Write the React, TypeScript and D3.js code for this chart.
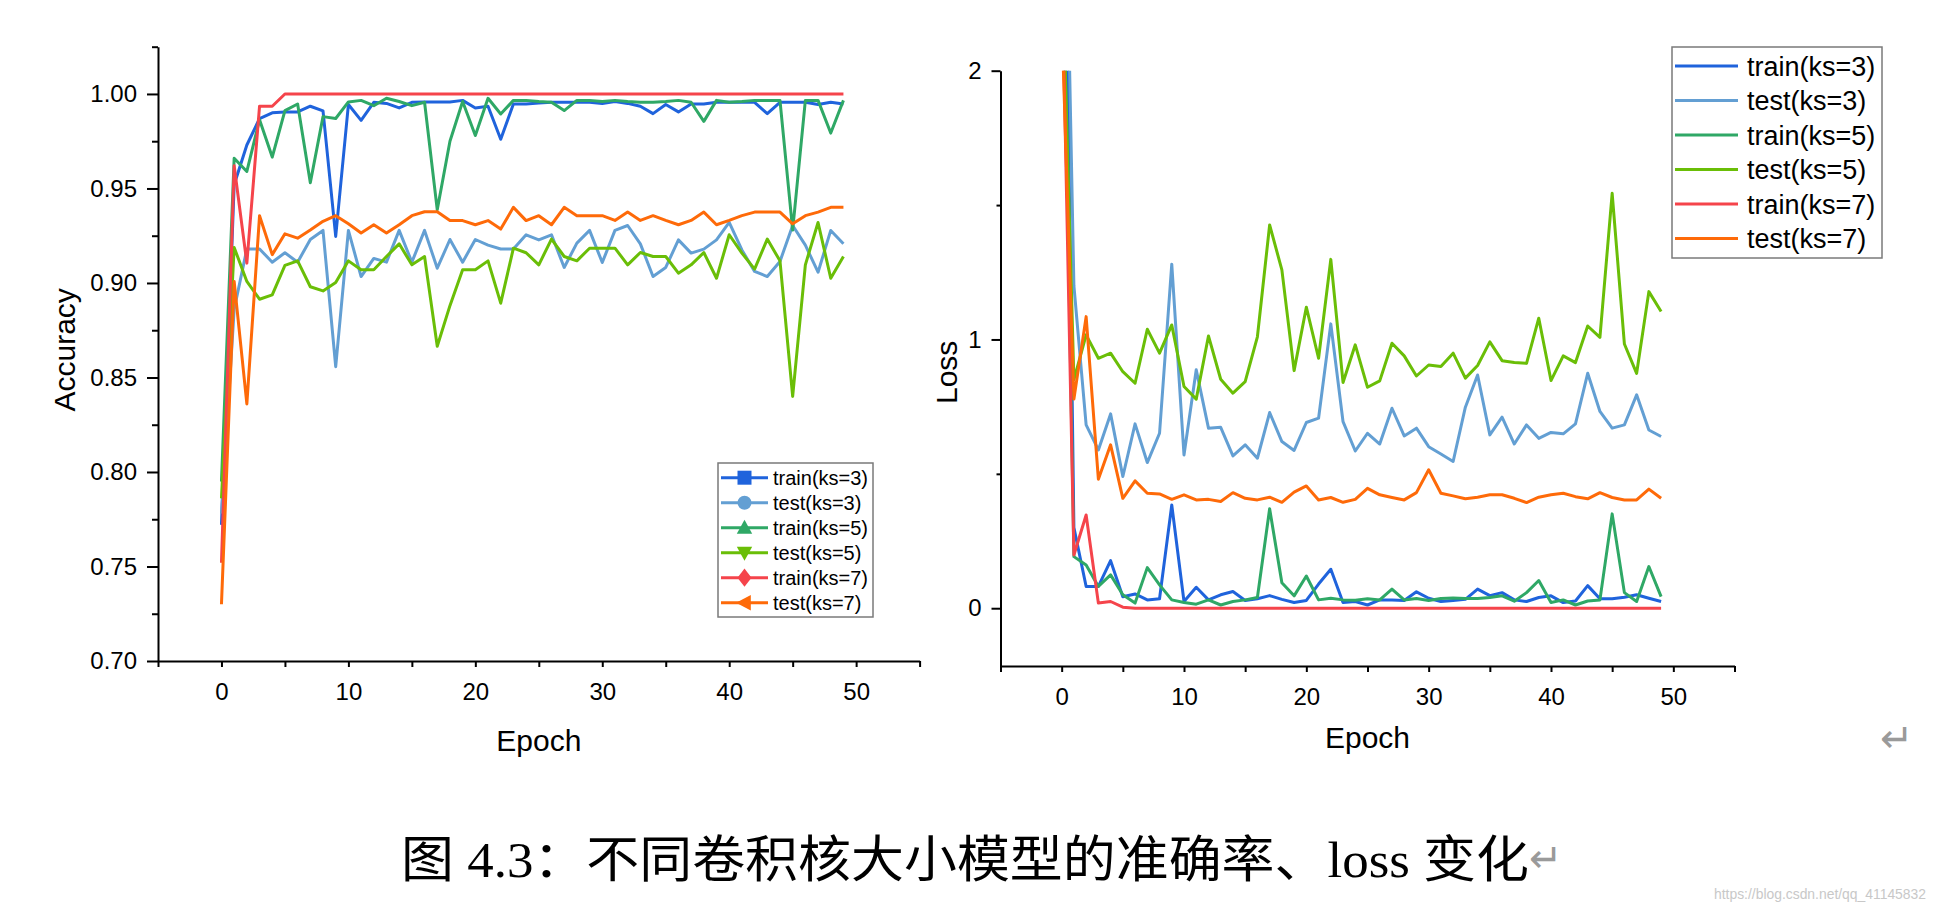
import React, { useEffect, useRef } from "react";
import * as d3 from "d3";

// series order: train(ks=3), test(ks=3), train(ks=5), test(ks=5), train(ks=7), test(ks=7)
const seriesNames = ["train(ks=3)", "test(ks=3)", "train(ks=5)", "test(ks=5)", "train(ks=7)", "test(ks=7)"];
const seriesColors = ["#1f63dc", "#639fd3", "#2fa866", "#6abe07", "#f5444b", "#fe6a09"];
const markerShapes = ["square", "circle", "triangleUp", "triangleDown", "diamond", "triangleLeft"];

// Accuracy per epoch (0..49)
const accTrain3 = [0.772, 0.952, 0.973, 0.987, 0.99, 0.9905, 0.9905, 0.9935, 0.991, 0.9246, 0.9944, 0.986, 0.9956, 0.995, 0.9926, 0.9956, 0.9958, 0.9958, 0.9958, 0.9966, 0.9926, 0.9935, 0.976, 0.9947, 0.9947, 0.9952, 0.9956, 0.9956, 0.9956, 0.9956, 0.995, 0.996, 0.995, 0.9935, 0.9896, 0.9944, 0.9905, 0.9947, 0.9947, 0.9956, 0.9956, 0.9956, 0.9956, 0.9896, 0.9956, 0.9956, 0.9956, 0.9944, 0.9956, 0.9947];
const accTest3 = [0.778, 0.886, 0.918, 0.918, 0.911, 0.916, 0.911, 0.923, 0.9278, 0.8557, 0.9278, 0.9034, 0.913, 0.911, 0.9278, 0.911, 0.9278, 0.9078, 0.923, 0.911, 0.923, 0.92, 0.918, 0.918, 0.9255, 0.9228, 0.9255, 0.9082, 0.9211, 0.9278, 0.9108, 0.9278, 0.9304, 0.9207, 0.9034, 0.9082, 0.9228, 0.9158, 0.9179, 0.9228, 0.932, 0.9175, 0.9061, 0.9034, 0.9114, 0.9304, 0.92, 0.9057, 0.9278, 0.9207];
const accTrain5 = [0.795, 0.966, 0.959, 0.9864, 0.9666, 0.9912, 0.9947, 0.953, 0.988, 0.987, 0.9958, 0.9966, 0.9938, 0.9977, 0.996, 0.9938, 0.9956, 0.9387, 0.975, 0.996, 0.978, 0.9977, 0.9894, 0.9966, 0.9966, 0.996, 0.9956, 0.9912, 0.9966, 0.9966, 0.996, 0.9966, 0.996, 0.9956, 0.9956, 0.996, 0.9966, 0.9956, 0.9855, 0.9966, 0.9956, 0.996, 0.9966, 0.9966, 0.9966, 0.928, 0.9966, 0.9966, 0.9793, 0.9966];
const accTest5 = [0.786, 0.9188, 0.9008, 0.8914, 0.8937, 0.9093, 0.9117, 0.898, 0.8958, 0.9002, 0.9117, 0.907, 0.907, 0.914, 0.9207, 0.9096, 0.914, 0.8665, 0.888, 0.907, 0.907, 0.9117, 0.8893, 0.9184, 0.916, 0.9096, 0.9232, 0.914, 0.9117, 0.9184, 0.9184, 0.9184, 0.9096, 0.9161, 0.914, 0.914, 0.9052, 0.9096, 0.9161, 0.9025, 0.9255, 0.9158, 0.9073, 0.9232, 0.9117, 0.84, 0.9096, 0.932, 0.9025, 0.914];
const accTrain7 = [0.752, 0.962, 0.9105, 0.9935, 0.9935, 1, 1, 1, 1, 1, 1, 1, 1, 1, 1, 1, 1, 1, 1, 1, 1, 1, 1, 1, 1, 1, 1, 1, 1, 1, 1, 1, 1, 1, 1, 1, 1, 1, 1, 1, 1, 1, 1, 1, 1, 1, 1, 1, 1, 1];
const accTest7 = [0.73, 0.9008, 0.836, 0.9356, 0.915, 0.926, 0.9237, 0.928, 0.9326, 0.9356, 0.9313, 0.9264, 0.9308, 0.9264, 0.9308, 0.9356, 0.9377, 0.9377, 0.933, 0.933, 0.9308, 0.933, 0.9285, 0.94, 0.933, 0.9356, 0.9308, 0.94, 0.9356, 0.9356, 0.9356, 0.9331, 0.9375, 0.9331, 0.9356, 0.9331, 0.9308, 0.9331, 0.9375, 0.9308, 0.9331, 0.9356, 0.9375, 0.9375, 0.9375, 0.9313, 0.9356, 0.9375, 0.94, 0.94];

// Loss per epoch (0..49); first values run above the axis top and get clipped
const lossTrain3 = [3.7, 0.3, 0.081, 0.081, 0.177, 0.043, 0.053, 0.031, 0.035, 0.384, 0.025, 0.078, 0.031, 0.05, 0.062, 0.029, 0.035, 0.047, 0.033, 0.021, 0.029, 0.09, 0.145, 0.021, 0.025, 0.012, 0.031, 0.031, 0.029, 0.061, 0.037, 0.025, 0.029, 0.033, 0.071, 0.047, 0.058, 0.031, 0.025, 0.04, 0.046, 0.021, 0.027, 0.084, 0.035, 0.035, 0.041, 0.05, 0.037, 0.025];
const lossTest3 = [3.5, 1.2, 0.682, 0.589, 0.723, 0.49, 0.686, 0.542, 0.651, 1.28, 0.57, 0.887, 0.67, 0.673, 0.567, 0.608, 0.558, 0.728, 0.62, 0.587, 0.691, 0.707, 1.058, 0.694, 0.585, 0.651, 0.611, 0.744, 0.641, 0.67, 0.601, 0.574, 0.546, 0.748, 0.868, 0.645, 0.711, 0.611, 0.682, 0.632, 0.654, 0.649, 0.686, 0.874, 0.732, 0.67, 0.682, 0.794, 0.663, 0.639];
const lossTrain5 = [2.77, 0.192, 0.161, 0.081, 0.124, 0.05, 0.019, 0.151, 0.087, 0.031, 0.021, 0.015, 0.031, 0.012, 0.025, 0.031, 0.04, 0.37, 0.095, 0.046, 0.12, 0.031, 0.037, 0.031, 0.03, 0.035, 0.031, 0.071, 0.031, 0.036, 0.029, 0.036, 0.038, 0.036, 0.036, 0.04, 0.046, 0.026, 0.058, 0.103, 0.021, 0.031, 0.012, 0.027, 0.031, 0.351, 0.058, 0.025, 0.155, 0.043];
const lossTest5 = [2.49, 0.85, 1.017, 0.93, 0.949, 0.88, 0.837, 1.038, 0.949, 1.054, 0.825, 0.778, 1.013, 0.852, 0.8, 0.843, 1.01, 1.426, 1.259, 0.884, 1.12, 0.93, 1.298, 0.84, 0.98, 0.822, 0.846, 0.986, 0.939, 0.864, 0.905, 0.899, 0.949, 0.856, 0.903, 0.991, 0.921, 0.914, 0.911, 1.079, 0.847, 0.939, 0.914, 1.05, 1.008, 1.544, 0.983, 0.874, 1.178, 1.104];
const lossTrain7 = [2.42, 0.198, 0.347, 0.019, 0.025, 0.004, 0, 0, 0, 0, 0, 0, 0, 0, 0, 0, 0, 0, 0, 0, 0, 0, 0, 0, 0, 0, 0, 0, 0, 0, 0, 0, 0, 0, 0, 0, 0, 0, 0, 0, 0, 0, 0, 0, 0, 0, 0, 0, 0, 0];
const lossTest7 = [2.2, 0.778, 1.085, 0.48, 0.608, 0.409, 0.474, 0.428, 0.425, 0.405, 0.422, 0.403, 0.405, 0.397, 0.43, 0.409, 0.403, 0.413, 0.394, 0.432, 0.455, 0.403, 0.412, 0.394, 0.405, 0.446, 0.422, 0.412, 0.403, 0.43, 0.515, 0.428, 0.418, 0.407, 0.413, 0.422, 0.422, 0.409, 0.393, 0.413, 0.422, 0.428, 0.415, 0.407, 0.43, 0.412, 0.403, 0.403, 0.443, 0.409];

const xMajorTicks = [0, 10, 20, 30, 40, 50];
const xMinorTicks = [-5, 5, 15, 25, 35, 45, 55];
const accMajorTicks = [0.7, 0.75, 0.8, 0.85, 0.9, 0.95, 1.0];
const accMinorTicks = [0.725, 0.775, 0.825, 0.875, 0.925, 0.975, 1.025];
const lossMajorTicks = [0, 1, 2];
const lossMinorTicks = [0.5, 1.5];

const FONT = "'Liberation Sans', Arial, sans-serif";

type Sel = d3.Selection<SVGGElement, unknown, null, undefined>;

function markerPath(shape: string, s: number) {
  switch (shape) {
    case "square":
      return `M${-s},${-s}H${s}V${s}H${-s}Z`;
    case "circle":
      return `M${s},0A${s},${s} 0 1,1 ${-s},0A${s},${s} 0 1,1 ${s},0Z`;
    case "triangleUp":
      return `M0,${-s * 1.15}L${s * 1.1},${s * 0.85}L${-s * 1.1},${s * 0.85}Z`;
    case "triangleDown":
      return `M0,${s * 1.15}L${s * 1.1},${-s * 0.85}L${-s * 1.1},${-s * 0.85}Z`;
    case "diamond":
      return `M0,${-s * 1.3}L${s},0L0,${s * 1.3}L${-s},0Z`;
    default:
      return `M${-s * 1.2},0L${s * 0.9},${-s * 1.1}L${s * 0.9},${s * 1.1}Z`;
  }
}

function styleAxis(g: Sel, fontSize: number) {
  g.select(".domain").attr("stroke", "#000").attr("stroke-width", 2);
  g.selectAll(".tick line").attr("stroke", "#000").attr("stroke-width", 2);
  g.selectAll(".tick text")
    .attr("fill", "#000")
    .attr("font-family", FONT)
    .attr("font-size", fontSize);
}

function drawPanel(
  root: d3.Selection<SVGSVGElement, unknown, null, undefined>,
  opts: {
    id: string;
    xRange: [number, number];
    yDomain: [number, number];
    yRange: [number, number];
    yMajor: number[];
    yMinor: number[];
    yFormat: (v: number) => string;
    yMajorSize: number;
    yMinorSize: number;
    series: number[][];
    yTitle: string;
    yTitleX: number;
    epochY: number;
  }
) {
  const x = d3.scaleLinear().domain([-5, 55]).range(opts.xRange);
  const y = d3.scaleLinear().domain(opts.yDomain).range(opts.yRange);
  const g = root.append("g");

  // clip
  g.append("clipPath")
    .attr("id", opts.id)
    .append("rect")
    .attr("x", opts.xRange[0])
    .attr("y", opts.yRange[1])
    .attr("width", opts.xRange[1] - opts.xRange[0])
    .attr("height", opts.yRange[0] - opts.yRange[1]);

  const line = d3
    .line<number>()
    .x((_, i) => x(i))
    .y((d) => y(d));

  const lines = g.append("g").attr("clip-path", `url(#${opts.id})`);
  opts.series.forEach((s, i) => {
    lines
      .append("path")
      .datum(s)
      .attr("fill", "none")
      .attr("stroke", seriesColors[i])
      .attr("stroke-width", 3)
      .attr("stroke-linejoin", "round")
      .attr("d", line);
  });

  // axes
  const yAxis = g.append("g").attr("transform", `translate(${opts.xRange[0]},0)`);
  yAxis.call(
    d3.axisLeft(y).tickValues(opts.yMajor).tickFormat((d) => opts.yFormat(d as number))
      .tickSize(opts.yMajorSize).tickSizeOuter(0).tickPadding(10)
  );
  styleAxis(yAxis, 24);
  const yMinor = g.append("g").attr("transform", `translate(${opts.xRange[0]},0)`);
  yMinor.call(d3.axisLeft(y).tickValues(opts.yMinor).tickFormat(() => "").tickSize(opts.yMinorSize));
  yMinor.select(".domain").remove();
  styleAxis(yMinor, 24);

  const xAxis = g.append("g").attr("transform", `translate(0,${opts.yRange[0]})`);
  xAxis.call(
    d3.axisBottom(x).tickValues(xMajorTicks).tickFormat((d) => String(d))
      .tickSize(6).tickSizeOuter(0).tickPadding(16)
  );
  styleAxis(xAxis, 24);
  const xMinor = g.append("g").attr("transform", `translate(0,${opts.yRange[0]})`);
  xMinor.call(d3.axisBottom(x).tickValues(xMinorTicks).tickFormat(() => "").tickSize(6));
  xMinor.select(".domain").remove();
  styleAxis(xMinor, 24);

  // titles
  const cx = (opts.xRange[0] + opts.xRange[1]) / 2;
  g.append("text")
    .attr("x", cx)
    .attr("y", opts.epochY)
    .attr("text-anchor", "middle")
    .attr("font-family", FONT)
    .attr("font-size", 30)
    .text("Epoch");
  const cy = (opts.yRange[0] + opts.yRange[1]) / 2 + (opts.id === "clipAcc" ? -4 : 4);
  g.append("text")
    .attr("transform", `translate(${opts.yTitleX},${cy}) rotate(-90)`)
    .attr("text-anchor", "middle")
    .attr("font-family", FONT)
    .attr("font-size", 30)
    .text(opts.yTitle);
}

function drawLegend(
  root: d3.Selection<SVGSVGElement, unknown, null, undefined>,
  box: { x: number; y: number; w: number; h: number },
  rowY0: number,
  rowStep: number,
  lineX: [number, number],
  textX: number,
  fontSize: number,
  withMarkers: boolean
) {
  const g = root.append("g");
  g.append("rect")
    .attr("x", box.x)
    .attr("y", box.y)
    .attr("width", box.w)
    .attr("height", box.h)
    .attr("fill", "#fff")
    .attr("stroke", "#7a7a7a")
    .attr("stroke-width", 1.5);
  seriesNames.forEach((name, i) => {
    const yy = rowY0 + i * rowStep;
    g.append("line")
      .attr("x1", lineX[0])
      .attr("x2", lineX[1])
      .attr("y1", yy)
      .attr("y2", yy)
      .attr("stroke", seriesColors[i])
      .attr("stroke-width", 3);
    if (withMarkers) {
      g.append("path")
        .attr("transform", `translate(${(lineX[0] + lineX[1]) / 2},${yy})`)
        .attr("d", markerPath(markerShapes[i], 7))
        .attr("fill", seriesColors[i]);
    }
    g.append("text")
      .attr("x", textX)
      .attr("y", yy)
      .attr("dy", "0.36em")
      .attr("font-family", FONT)
      .attr("font-size", fontSize)
      .attr("fill", "#000")
      .text(name);
  });
}

export default function App() {
  const svgRef = useRef<SVGSVGElement>(null);

  useEffect(() => {
    if (!svgRef.current) return;
    const svg = d3.select(svgRef.current);
    svg.selectAll("*").remove();

    drawPanel(svg, {
      id: "clipAcc",
      xRange: [158, 919.6],
      yDomain: [0.7, 1.025],
      yRange: [661, 46.7],
      yMajor: accMajorTicks,
      yMinor: accMinorTicks,
      yFormat: d3.format(".2f"),
      yMajorSize: 11,
      yMinorSize: 6,
      series: [accTrain3, accTest3, accTrain5, accTest5, accTrain7, accTest7],
      yTitle: "Accuracy",
      yTitleX: 75,
      epochY: 751,
    });

    drawPanel(svg, {
      id: "clipLoss",
      xRange: [1000.5, 1734.5],
      yDomain: [-0.215, 2],
      yRange: [666, 70.7],
      yMajor: lossMajorTicks,
      yMinor: lossMinorTicks,
      yFormat: d3.format("d"),
      yMajorSize: 9,
      yMinorSize: 4,
      series: [lossTrain3, lossTest3, lossTrain5, lossTest5, lossTrain7, lossTest7],
      yTitle: "Loss",
      yTitleX: 957,
      epochY: 748,
    });

    drawLegend(svg, { x: 718, y: 463, w: 155, h: 154 }, 477.7, 25, [721, 768], 773, 20, true);
    drawLegend(svg, { x: 1672, y: 47, w: 210, h: 211 }, 66, 34.5, [1675, 1738], 1747, 27, false);

    // caption
    const cap = svg
      .append("text")
      .attr("x", 401)
      .attr("y", 877)
      .attr("font-family", "'Liberation Serif', 'Noto Sans CJK SC', serif")
      .attr("font-size", 50)
      .attr("textLength", 1128)
      .attr("lengthAdjust", "spacingAndGlyphs")
      .attr("fill", "#000");
    cap.text("图 4.3：不同卷积核大小模型的准确率、loss 变化");

    svg.append("text")
      .attr("x", 1529)
      .attr("y", 872)
      .attr("font-family", "'DejaVu Sans', sans-serif")
      .attr("font-size", 40)
      .attr("fill", "#9a9a9a")
      .text("↵");
    svg.append("text")
      .attr("x", 1880)
      .attr("y", 752)
      .attr("font-family", "'DejaVu Sans', sans-serif")
      .attr("font-size", 40)
      .attr("fill", "#9a9a9a")
      .text("↵");

    svg.append("text")
      .attr("x", 1714)
      .attr("y", 899)
      .attr("font-family", FONT)
      .attr("font-size", 15)
      .attr("textLength", 212)
      .attr("lengthAdjust", "spacingAndGlyphs")
      .attr("fill", "#c8c8c8")
      .text("https://blog.csdn.net/qq_41145832");
  }, []);

  return (
    <svg
      ref={svgRef}
      width={1944}
      height={913}
      style={{ position: "absolute", left: 0, top: 0, background: "#fff", display: "block" }}
    />
  );
}
